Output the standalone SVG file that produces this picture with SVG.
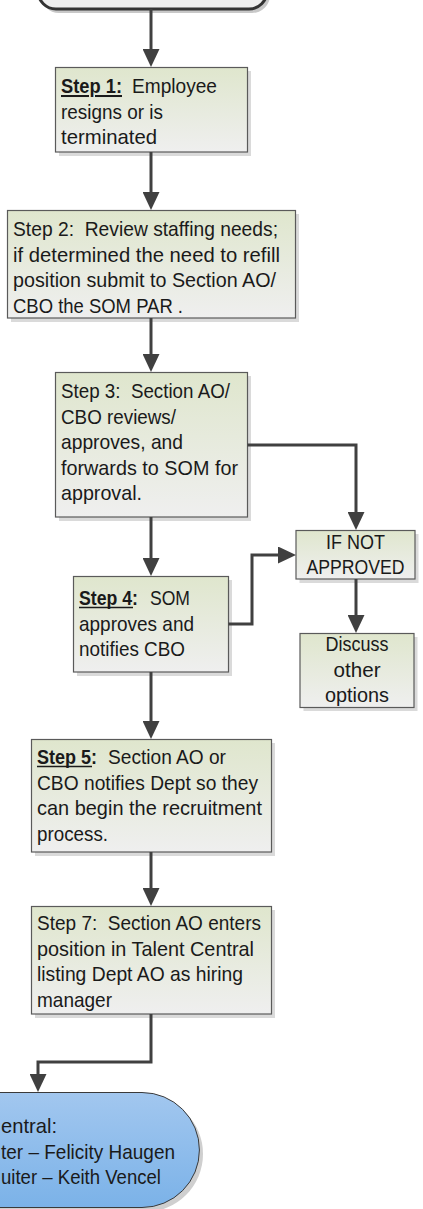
<svg xmlns="http://www.w3.org/2000/svg" width="423" height="1209" viewBox="0 0 423 1209">
<defs>
<linearGradient id="gBox" x1="0" y1="0" x2="0" y2="1">
<stop offset="0" stop-color="#dfe6cd"/>
<stop offset="1" stop-color="#efefef"/>
</linearGradient>
<linearGradient id="gBlue" x1="0" y1="0" x2="0" y2="1">
<stop offset="0" stop-color="#a2c7ef"/>
<stop offset="1" stop-color="#7bb2e8"/>
</linearGradient>
<marker id="arr" viewBox="0 0 18 17" refX="10" refY="8.5" markerWidth="18" markerHeight="17" markerUnits="userSpaceOnUse" orient="auto">
<path d="M0,0 L18,8.5 L0,17 Z" fill="#404040"/>
</marker>
</defs>
<style>
.box{fill:url(#gBox);stroke:#5a5a5a;stroke-width:1.2}
.sh{fill:#dadada}
.t{font-family:"Liberation Sans",Arial,sans-serif;font-size:20.2px;fill:#1a1a1a;white-space:pre}
.c{text-anchor:middle}
.bo{font-weight:bold}
.b{font-weight:bold;text-decoration:underline}
.ul{stroke:#1a1a1a;stroke-width:1.5}
.con{fill:none;stroke:#404040;stroke-width:3;marker-end:url(#arr)}
</style>

<g id="start">
<rect x="41" y="-27" width="229" height="40" rx="18" fill="#c8c8c8"/>
<rect x="38" y="-30" width="229" height="39" rx="18" fill="#eeeeee" stroke="#333333" stroke-width="3"/>
</g>

<g id="step1">
<rect class="sh" x="59" y="71" width="192" height="85"/>
<rect class="box" x="55.5" y="67.5" width="192" height="84.5"/>
<text class="t b" x="61" y="93" textLength="61" lengthAdjust="spacingAndGlyphs">Step 1:</text>
<text class="t" x="132" y="93" textLength="85" lengthAdjust="spacingAndGlyphs">Employee</text>
<text class="t" x="61" y="118.5" textLength="102" lengthAdjust="spacingAndGlyphs">resigns or is</text>
<text class="t" x="61" y="144" textLength="96" lengthAdjust="spacingAndGlyphs">terminated</text>
</g>

<g id="step2">
<rect class="sh" x="11" y="214" width="288" height="108"/>
<rect class="box" x="7.5" y="210.5" width="288" height="107.5"/>
<text class="t" xml:space="preserve" x="13" y="236" textLength="265" lengthAdjust="spacingAndGlyphs">Step 2:  Review staffing needs;</text>
<text class="t" x="13" y="261.5" textLength="267" lengthAdjust="spacingAndGlyphs">if determined the need to refill</text>
<text class="t" x="13" y="287" textLength="263" lengthAdjust="spacingAndGlyphs">position submit to Section AO/</text>
<text class="t" x="13" y="312.5" textLength="170" lengthAdjust="spacingAndGlyphs">CBO the SOM PAR .</text>
</g>

<g id="step3">
<rect class="sh" x="59" y="376" width="192" height="145"/>
<rect class="box" x="55.5" y="372.5" width="192" height="144.5"/>
<text class="t" xml:space="preserve" x="61" y="398" textLength="169" lengthAdjust="spacingAndGlyphs">Step 3:  Section AO/</text>
<text class="t" x="61" y="423.5" textLength="115" lengthAdjust="spacingAndGlyphs">CBO reviews/</text>
<text class="t" x="61" y="449" textLength="122" lengthAdjust="spacingAndGlyphs">approves, and</text>
<text class="t" x="61" y="474.5" textLength="177" lengthAdjust="spacingAndGlyphs">forwards to SOM for</text>
<text class="t" x="61" y="500" textLength="81" lengthAdjust="spacingAndGlyphs">approval.</text>
</g>

<g id="step4">
<rect class="sh" x="77" y="580" width="155" height="96"/>
<rect class="box" x="73.5" y="576.5" width="155" height="95.5"/>
<text class="t bo" x="79" y="605" textLength="59" lengthAdjust="spacingAndGlyphs">Step 4:</text>
<line class="ul" x1="79" y1="607.5" x2="133" y2="607.5"/>
<text class="t" x="150" y="605" textLength="40" lengthAdjust="spacingAndGlyphs">SOM</text>
<text class="t" x="79" y="630.5" textLength="115" lengthAdjust="spacingAndGlyphs">approves and</text>
<text class="t" x="79" y="656" textLength="106" lengthAdjust="spacingAndGlyphs">notifies CBO</text>
</g>

<g id="notapproved">
<rect class="sh" x="299.5" y="534" width="119" height="49"/>
<rect class="box" x="296" y="530.5" width="119" height="48.5"/>
<text class="t c" x="355.5" y="548.5" textLength="59" lengthAdjust="spacingAndGlyphs">IF NOT</text>
<text class="t c" x="355.5" y="574" textLength="98" lengthAdjust="spacingAndGlyphs">APPROVED</text>
</g>

<g id="discuss">
<rect class="sh" x="303.5" y="637" width="114" height="74"/>
<rect class="box" x="300" y="633.5" width="114" height="74"/>
<text class="t c" x="357" y="651" textLength="63" lengthAdjust="spacingAndGlyphs">Discuss</text>
<text class="t c" x="357" y="676.5" textLength="47" lengthAdjust="spacingAndGlyphs">other</text>
<text class="t c" x="357" y="702" textLength="64" lengthAdjust="spacingAndGlyphs">options</text>
</g>

<g id="step5">
<rect class="sh" x="35" y="743" width="240" height="113"/>
<rect class="box" x="31.5" y="739.5" width="240" height="112.5"/>
<text class="t bo" x="37" y="764" textLength="60" lengthAdjust="spacingAndGlyphs">Step 5:</text>
<line class="ul" x1="37" y1="766.5" x2="92" y2="766.5"/>
<text class="t" x="108" y="764" textLength="118" lengthAdjust="spacingAndGlyphs">Section AO or</text>
<text class="t" x="37" y="789.5" textLength="221" lengthAdjust="spacingAndGlyphs">CBO notifies Dept so they</text>
<text class="t" x="37" y="815" textLength="225" lengthAdjust="spacingAndGlyphs">can begin the recruitment</text>
<text class="t" x="37" y="840.5" textLength="71" lengthAdjust="spacingAndGlyphs">process.</text>
</g>

<g id="step7">
<rect class="sh" x="35" y="910" width="240" height="108"/>
<rect class="box" x="31.5" y="906.5" width="240" height="107.5"/>
<text class="t" xml:space="preserve" x="37" y="930" textLength="224" lengthAdjust="spacingAndGlyphs">Step 7:  Section AO enters</text>
<text class="t" x="37" y="955.5" textLength="217" lengthAdjust="spacingAndGlyphs">position in Talent Central</text>
<text class="t" x="37" y="981" textLength="206" lengthAdjust="spacingAndGlyphs">listing Dept AO as hiring</text>
<text class="t" x="37" y="1006.5" textLength="75" lengthAdjust="spacingAndGlyphs">manager</text>
</g>

<g id="end">
<path d="M-10,1096 H145 A58,58 0 0 1 145,1212 H-10 Z" fill="#cfcfcf"/>
<path d="M-10,1092.5 H142 A57.5,57.5 0 0 1 142,1207.5 H-10 Z" fill="url(#gBlue)" stroke="#3a3a3a" stroke-width="1"/>
<text class="t" x="1" y="1133" textLength="56" lengthAdjust="spacingAndGlyphs">entral:</text>
<text class="t" x="1" y="1158.5" textLength="174" lengthAdjust="spacingAndGlyphs">ter – Felicity Haugen</text>
<text class="t" x="1" y="1184" textLength="160" lengthAdjust="spacingAndGlyphs">uiter – Keith Vencel</text>
</g>

<g id="connectors">
<path class="con" d="M151,9 V59"/>
<path class="con" d="M151,152 V202"/>
<path class="con" d="M151,318 V364"/>
<path class="con" d="M151,517 V568"/>
<path class="con" d="M247.5,445 H356 V522"/>
<path class="con" d="M228.5,624 H252 V555 H288"/>
<path class="con" d="M356,579 V625"/>
<path class="con" d="M151,672 V731"/>
<path class="con" d="M151,852 V898"/>
<path class="con" d="M151,1014 V1062 H38 V1084"/>
</g>
</svg>
